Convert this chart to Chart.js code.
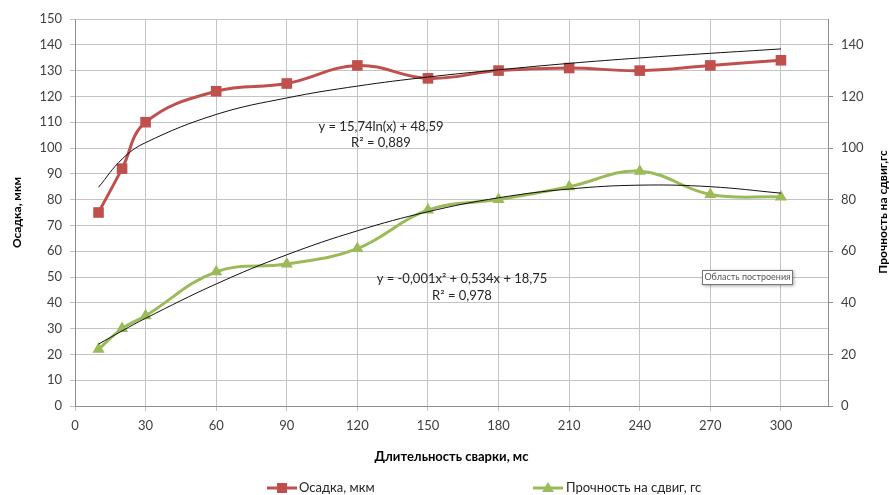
<!DOCTYPE html>
<html>
<head>
<meta charset="utf-8">
<script src="https://cdn.jsdelivr.net/npm/chart.js@4.4.0/dist/chart.umd.min.js"></script>
<style>
  html, body { margin: 0; padding: 0; background: #fff; }
  #wrap { width: 889px; height: 495px; }
</style>
</head>
<body>
<div id="wrap"><canvas id="chart" width="889" height="495"></canvas></div>
<script>
// data
const times = [10, 20, 30, 60, 90, 120, 150, 180, 210, 240, 270, 300];
const osadka = [75, 92, 110, 122, 125, 132, 127, 130, 131, 130, 132, 134];
const prochnost = [22, 30, 35, 52, 55, 61, 76, 80, 85, 91, 82, 81];
// trend lines as they appear in the picture
const osadkaTrend = [84.8, 95.7, 102.1, 113.0, 119.4, 124.0, 127.5, 130.3, 132.8, 134.9, 136.7, 138.4];
const prochnostTrend = [24.0, 29.1, 34.0, 47.3, 58.6, 67.9, 75.3, 80.7, 84.1, 85.6, 85.0, 82.5];

const xTicks = [0, 30, 60, 90, 120, 150, 180, 210, 240, 270, 300];
const leftTicks = [0, 10, 20, 30, 40, 50, 60, 70, 80, 90, 100, 110, 120, 130, 140, 150];
const rightTicks = [0, 20, 40, 60, 80, 100, 120, 140];

const RED = '#C0504D';
const GREEN = '#9BBB59';
const GRID = '#c4c4c4';
const AXIS = '#8e8e8e';

Chart.defaults.font.family = "Lato, 'Liberation Sans', sans-serif";
Chart.defaults.color = '#404040';

function pairs(ys) {
  return times.map((t, i) => ({ x: t, y: ys[i] }));
}

const extras = {
  id: 'extras',
  afterDraw(chart) {
    const ctx = chart.ctx;
    ctx.save();
    ctx.fillStyle = '#262626';
    ctx.textAlign = 'center';
    ctx.textBaseline = 'middle';
    ctx.font = "13px Lato";
    ctx.fillText('y = 15,74ln(x) + 48,59', 381, 127);
    ctx.fillText('R² = 0,889', 381, 143);
    ctx.fillText('y = -0,001x² + 0,534x + 18,75', 462, 279);
    ctx.fillText('R² = 0,978', 462, 296);

    // right axis title, reads bottom to top like the left one
    ctx.save();
    ctx.translate(883, 212);
    ctx.rotate(-Math.PI / 2);
    ctx.font = "bold 12px Lato";
    ctx.fillStyle = '#000';
    ctx.fillText('Прочность на сдвиг,гс', 0, 0);
    ctx.restore();

    // "Область построения" hint box
    ctx.save();
    ctx.shadowColor = 'rgba(0,0,0,0.35)';
    ctx.shadowBlur = 3;
    ctx.shadowOffsetX = 1;
    ctx.shadowOffsetY = 1;
    ctx.fillStyle = '#fff';
    ctx.fillRect(702, 270, 91, 15);
    ctx.restore();
    ctx.strokeStyle = '#777';
    ctx.lineWidth = 1;
    ctx.strokeRect(702.5, 270.5, 90, 14);
    ctx.fillStyle = '#555';
    ctx.font = "9px Lato";
    ctx.fillText('Область построения', 747.5, 277.5);

    // legend
    ctx.textAlign = 'left';
    ctx.font = "13px Lato";
    ctx.lineWidth = 3;
    ctx.strokeStyle = RED;
    ctx.beginPath(); ctx.moveTo(267, 488); ctx.lineTo(297, 488); ctx.stroke();
    ctx.fillStyle = RED;
    ctx.fillRect(277, 483, 10, 10);
    ctx.fillStyle = '#262626';
    ctx.fillText('Осадка, мкм', 299, 488);

    ctx.strokeStyle = GREEN;
    ctx.beginPath(); ctx.moveTo(533, 488); ctx.lineTo(563, 488); ctx.stroke();
    ctx.fillStyle = GREEN;
    ctx.beginPath(); ctx.moveTo(548, 482); ctx.lineTo(554, 492); ctx.lineTo(542, 492); ctx.closePath(); ctx.fill();
    ctx.fillStyle = '#262626';
    ctx.fillText('Прочность на сдвиг, гс', 566, 488);
    ctx.restore();
  }
};

new Chart(document.getElementById('chart'), {
  type: 'line',
  data: {
    datasets: [
      {
        label: 'trend1',
        data: pairs(osadkaTrend),
        yAxisID: 'y',
        borderColor: '#111',
        borderWidth: 1,
        pointRadius: 0,
        tension: 0.4,
        order: 0
      },
      {
        label: 'trend2',
        data: pairs(prochnostTrend),
        yAxisID: 'y1',
        borderColor: '#111',
        borderWidth: 1,
        pointRadius: 0,
        tension: 0.4,
        order: 0
      },
      {
        label: 'Осадка, мкм',
        data: pairs(osadka),
        yAxisID: 'y',
        borderColor: RED,
        backgroundColor: RED,
        borderWidth: 3,
        pointStyle: 'rect',
        pointRadius: 7.5,
        pointBorderWidth: 0,
        tension: 0.4,
        order: 1
      },
      {
        label: 'Прочность на сдвиг, гс',
        data: pairs(prochnost),
        yAxisID: 'y1',
        borderColor: GREEN,
        backgroundColor: GREEN,
        borderWidth: 3,
        pointStyle: 'triangle',
        pointRadius: 7,
        pointBorderWidth: 0,
        tension: 0.4,
        order: 1
      }
    ]
  },
  options: {
    responsive: false,
    animation: false,
    devicePixelRatio: 1,
    layout: { padding: { top: 19, bottom: 24, left: 0, right: 0 } },
    plugins: {
      legend: { display: false },
      tooltip: { enabled: false }
    },
    scales: {
      x: {
        type: 'linear',
        min: 0,
        max: 320,
        afterBuildTicks: s => { s.ticks = xTicks.map(v => ({ value: v })); },
        afterFit: s => { s.height = 65; },
        grid: { color: GRID, tickLength: 5 },
        border: { color: AXIS },
        ticks: { padding: 7, font: { size: 13 }, maxRotation: 0 },
        title: {
          display: true,
          text: 'Длительность сварки, мс',
          color: '#000',
          font: { size: 13, weight: 'bold' },
          padding: { top: 0, bottom: 6 }
        }
      },
      y: {
        position: 'left',
        min: 0,
        max: 150,
        afterBuildTicks: s => { s.ticks = leftTicks.map(v => ({ value: v })); },
        afterFit: s => { s.width = 75; },
        grid: { color: GRID, tickLength: 5 },
        border: { color: AXIS },
        ticks: { padding: 8, font: { size: 13 } },
        title: {
          display: true,
          text: 'Осадка, мкм',
          color: '#000',
          font: { size: 12, weight: 'bold' },
          padding: { top: 10, bottom: 0 }
        }
      },
      y1: {
        position: 'right',
        min: 0,
        max: 150,
        afterBuildTicks: s => { s.ticks = rightTicks.map(v => ({ value: v })); },
        afterFit: s => { s.width = 61; },
        grid: { drawOnChartArea: false, color: AXIS, tickLength: 5 },
        border: { color: AXIS },
        ticks: { padding: 8, font: { size: 13 } }
      }
    }
  },
  plugins: [extras]
});
</script>
</body>
</html>
